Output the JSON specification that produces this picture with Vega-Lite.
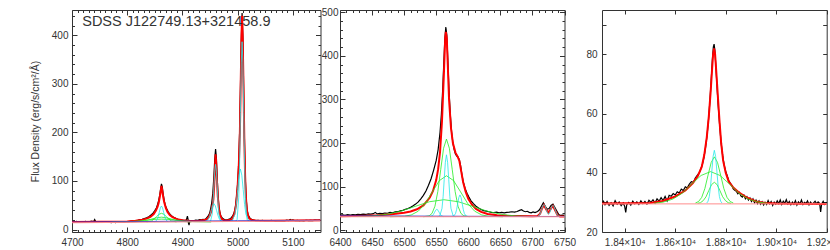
{
"$schema": "https://vega.github.io/schema/vega-lite/v6.json",
"padding": {"left": 30, "top": 7, "right": 0, "bottom": 0},
"background": "white",
"config": {
  "view": {"stroke": null},
  "axis": {"domainColor": "#333", "domainWidth": 1, "tickColor": "#333", "tickWidth": 1, "labelColor": "#333", "labelFont": "Liberation Sans", "labelFontSize": 10, "titleFont": "Liberation Sans", "titleFontSize": 10.5, "titleFontWeight": "normal", "titleColor": "#333", "grid": false, "labelFlush": false, "labelOverlap": false}
},
"datasets": {
  "o1": [
    {"x":4700,"y":16.2},{"x":4704,"y":15.5},{"x":4708,"y":16.8},{"x":4712,"y":15.9},{"x":4716,"y":16.4},{"x":4720,"y":15.2},{"x":4724,"y":16.9},{"x":4728,"y":15.8},{"x":4732,"y":16.5},{"x":4736,"y":17.2},{"x":4739,"y":16.1},{"x":4741,"y":20.5},{"x":4743,"y":16.3},{"x":4747,"y":15.4},{"x":4751,"y":16.1},{"x":4755,"y":14.9},{"x":4759,"y":15.8},{"x":4763,"y":14.6},{"x":4767,"y":15.3},{"x":4771,"y":14.2},{"x":4775,"y":15.1},{"x":4779,"y":14.4},{"x":4783,"y":15.6},{"x":4787,"y":14.8},{"x":4791,"y":15.9},{"x":4795,"y":15.3},{"x":4799,"y":16.6},{"x":4803,"y":16.2},{"x":4807,"y":17.3},{"x":4811,"y":17.8},{"x":4815,"y":18.6},{"x":4819,"y":19.2},{"x":4823,"y":20.3},{"x":4827,"y":21.2},{"x":4831,"y":22.8},{"x":4835,"y":24.1},{"x":4839,"y":26.5},{"x":4843,"y":29.8},{"x":4847,"y":34.5},{"x":4850,"y":39},{"x":4853,"y":45},{"x":4855,"y":52},{"x":4857,"y":60},{"x":4859,"y":72},{"x":4860.5,"y":84},{"x":4862,"y":94},{"x":4863.5,"y":88},{"x":4865,"y":74},{"x":4867,"y":60},{"x":4869,"y":50},{"x":4871,"y":44},{"x":4874,"y":37},{"x":4877,"y":32},{"x":4880,"y":28.5},{"x":4884,"y":25.3},{"x":4888,"y":23},{"x":4892,"y":21.2},{"x":4896,"y":20.3},{"x":4900,"y":19.4},{"x":4904,"y":18.7},{"x":4907,"y":19.5},{"x":4909,"y":27.5},{"x":4910,"y":22},{"x":4911,"y":13},{"x":4912,"y":9},{"x":4913,"y":17},{"x":4916,"y":18.4},{"x":4920,"y":18.2},{"x":4924,"y":19.6},{"x":4928,"y":18.9},{"x":4931,"y":20.5},{"x":4934,"y":19.8},{"x":4937,"y":21},{"x":4940,"y":20.6},{"x":4943,"y":23},{"x":4946,"y":27},{"x":4949,"y":33},{"x":4951,"y":42},{"x":4953,"y":55},{"x":4955,"y":75},{"x":4957,"y":110},{"x":4958.5,"y":145},{"x":4960,"y":166},{"x":4961.5,"y":148},{"x":4963,"y":105},{"x":4964.5,"y":70},{"x":4966,"y":48},{"x":4968,"y":34},{"x":4970,"y":27},{"x":4973,"y":22.5},{"x":4976,"y":20.5},{"x":4979,"y":19.6},{"x":4982,"y":20.4},{"x":4985,"y":21.5},{"x":4988,"y":24},{"x":4991,"y":28},{"x":4994,"y":36},{"x":4996,"y":48},{"x":4998,"y":68},{"x":5000,"y":95},{"x":5002,"y":140},{"x":5003.5,"y":200},{"x":5005,"y":290},{"x":5006.5,"y":390},{"x":5008,"y":446},{"x":5009.5,"y":395},{"x":5011,"y":270},{"x":5012.5,"y":170},{"x":5014,"y":100},{"x":5015.5,"y":62},{"x":5017,"y":42},{"x":5019,"y":30},{"x":5022,"y":24},{"x":5025,"y":21},{"x":5029,"y":19.6},{"x":5033,"y":18.5},{"x":5037,"y":19.2},{"x":5041,"y":18.1},{"x":5045,"y":18.8},{"x":5049,"y":17.6},{"x":5053,"y":18.4},{"x":5057,"y":17.9},{"x":5061,"y":18.8},{"x":5065,"y":18.2},{"x":5069,"y":17.5},{"x":5073,"y":18.3},{"x":5077,"y":17.8},{"x":5081,"y":18.6},{"x":5085,"y":18.1},{"x":5089,"y":19.5},{"x":5092,"y":18.4},{"x":5095,"y":20.8},{"x":5097,"y":19},{"x":5100,"y":19.8},{"x":5104,"y":18.2},{"x":5108,"y":18.9},{"x":5112,"y":17.7},{"x":5116,"y":18.6},{"x":5120,"y":18.1},{"x":5124,"y":19.2},{"x":5128,"y":18.4},{"x":5132,"y":19.1},{"x":5136,"y":18.6},{"x":5140,"y":19.4},{"x":5144,"y":18.8},{"x":5150,"y":19.3}
  ],
  "m1": [
    {"x":4700,"y":15.8},{"x":4750,"y":16},{"x":4780,"y":16.2},{"x":4800,"y":16.8},{"x":4815,"y":18},{"x":4825,"y":19.5},{"x":4835,"y":22.5},{"x":4842,"y":26},{"x":4848,"y":32},{"x":4852,"y":39},{"x":4855,"y":47},{"x":4857,"y":55},{"x":4859,"y":67},{"x":4860.5,"y":78},{"x":4862,"y":90},{"x":4863.5,"y":80},{"x":4865,"y":68},{"x":4867,"y":56},{"x":4870,"y":44},{"x":4873,"y":36},{"x":4877,"y":30},{"x":4882,"y":25.5},{"x":4890,"y":21.5},{"x":4900,"y":19},{"x":4915,"y":17.8},{"x":4930,"y":18},{"x":4940,"y":19.5},{"x":4945,"y":22},{"x":4949,"y":28},{"x":4952,"y":37},{"x":4954.5,"y":50},{"x":4956,"y":62},{"x":4957.5,"y":90},{"x":4959,"y":130},{"x":4960,"y":155},{"x":4961,"y":138},{"x":4962.5,"y":100},{"x":4964,"y":68},{"x":4966,"y":44},{"x":4968,"y":30},{"x":4971,"y":22},{"x":4975,"y":19},{"x":4980,"y":18.5},{"x":4985,"y":19.5},{"x":4990,"y":22},{"x":4994,"y":32},{"x":4997,"y":50},{"x":5000,"y":90},{"x":5002,"y":130},{"x":5004,"y":200},{"x":5005.5,"y":300},{"x":5007,"y":400},{"x":5008,"y":440},{"x":5009,"y":400},{"x":5010.5,"y":300},{"x":5012,"y":190},{"x":5013.5,"y":110},{"x":5015,"y":65},{"x":5017,"y":37},{"x":5020,"y":24},{"x":5025,"y":19.5},{"x":5035,"y":18.2},{"x":5060,"y":18.3},{"x":5100,"y":18.6},{"x":5150,"y":19}
  ],
  "g1": [
    {"c":1,"x":4835,"y":15.7},{"c":1,"x":4844,"y":17.9},{"c":1,"x":4848.5,"y":21.4},{"c":1,"x":4853,"y":26.4},{"c":1,"x":4857.5,"y":31.4},{"c":1,"x":4862,"y":33.5},{"c":1,"x":4866.5,"y":31.4},{"c":1,"x":4871,"y":26.4},{"c":1,"x":4875.5,"y":21.4},{"c":1,"x":4880,"y":17.9},{"c":1,"x":4889,"y":15.7},
    {"c":2,"x":4808,"y":15.6},{"c":2,"x":4826,"y":16.9},{"c":2,"x":4835,"y":18.8},{"c":2,"x":4844,"y":21.6},{"c":2,"x":4853,"y":24.3},{"c":2,"x":4862,"y":25.5},{"c":2,"x":4871,"y":24.3},{"c":2,"x":4880,"y":21.6},{"c":2,"x":4889,"y":18.8},{"c":2,"x":4898,"y":16.9},{"c":2,"x":4916,"y":15.6},
    {"c":3,"x":4772,"y":15.6},{"c":3,"x":4802,"y":16.3},{"c":3,"x":4817,"y":17.4},{"c":3,"x":4832,"y":19.1},{"c":3,"x":4847,"y":20.8},{"c":3,"x":4862,"y":21.5},{"c":3,"x":4877,"y":20.8},{"c":3,"x":4892,"y":19.1},{"c":3,"x":4907,"y":17.4},{"c":3,"x":4922,"y":16.3},{"c":3,"x":4952,"y":15.6}
  ],
  "c1": [
    {"c":1,"x":4850,"y":15.9},{"c":1,"x":4854,"y":20},{"c":1,"x":4856,"y":26.2},{"c":1,"x":4858,"y":35.5},{"c":1,"x":4860,"y":44.6},{"c":1,"x":4862,"y":48.5},{"c":1,"x":4864,"y":44.6},{"c":1,"x":4866,"y":35.5},{"c":1,"x":4868,"y":26.2},{"c":1,"x":4870,"y":20},{"c":1,"x":4874,"y":15.9},
    {"c":2,"x":4948,"y":16.3},{"c":2,"x":4951,"y":17.6},{"c":2,"x":4954,"y":32.2},{"c":2,"x":4955.5,"y":54.7},{"c":2,"x":4957,"y":87.9},{"c":2,"x":4958.5,"y":120.4},{"c":2,"x":4960,"y":134.3},{"c":2,"x":4961.5,"y":120.4},{"c":2,"x":4963,"y":87.9},{"c":2,"x":4964.5,"y":54.7},{"c":2,"x":4966,"y":32.2},{"c":2,"x":4969,"y":17.6},{"c":2,"x":4972,"y":16.3},
    {"c":3,"x":4942,"y":16.7},{"c":3,"x":4947,"y":21.3},{"c":3,"x":4949.5,"y":28.3},{"c":3,"x":4952,"y":38.8},{"c":3,"x":4954.5,"y":48.9},{"c":3,"x":4957,"y":53.3},{"c":3,"x":4959.5,"y":48.9},{"c":3,"x":4962,"y":38.8},{"c":3,"x":4964.5,"y":28.3},{"c":3,"x":4967,"y":21.3},{"c":3,"x":4972,"y":16.7},
    {"c":4,"x":4996,"y":16.8},{"c":4,"x":4999,"y":20.8},{"c":4,"x":5002,"y":66.7},{"c":4,"x":5003.5,"y":136.9},{"c":4,"x":5005,"y":241.3},{"c":4,"x":5006.5,"y":343},{"c":4,"x":5008,"y":386.7},{"c":4,"x":5009.5,"y":343},{"c":4,"x":5011,"y":241.3},{"c":4,"x":5012.5,"y":136.9},{"c":4,"x":5014,"y":66.7},{"c":4,"x":5017,"y":20.8},{"c":4,"x":5020,"y":16.8},
    {"c":5,"x":4985,"y":16.7},{"c":5,"x":4990,"y":17.9},{"c":5,"x":4995,"y":31.3},{"c":5,"x":4997.5,"y":51.8},{"c":5,"x":5000,"y":82.3},{"c":5,"x":5002.5,"y":112},{"c":5,"x":5005,"y":124.7},{"c":5,"x":5007.5,"y":112},{"c":5,"x":5010,"y":82.3},{"c":5,"x":5012.5,"y":51.8},{"c":5,"x":5015,"y":31.3},{"c":5,"x":5020,"y":17.9},{"c":5,"x":5025,"y":16.7}
  ],
  "b1": [{"x":4700,"y":15.5},{"x":4800,"y":16.2},{"x":4900,"y":17.3},{"x":5000,"y":18},{"x":5100,"y":18.7},{"x":5150,"y":19}],
  "k1": [{"x":4700,"y":14},{"x":5150,"y":18}],
  "t1": [{"x":4718.5,"y":419,"t":"SDSS J122749.13+321458.9"}],
  "o2": [
    {"x":6400,"y":34.5},{"x":6404,"y":35.5},{"x":6408,"y":34.2},{"x":6412,"y":35.8},{"x":6416,"y":35},{"x":6420,"y":36.1},{"x":6424,"y":35.2},{"x":6428,"y":36.5},{"x":6432,"y":35.7},{"x":6436,"y":37},{"x":6440,"y":36.2},{"x":6444,"y":37.5},{"x":6448,"y":36.8},{"x":6452,"y":38},{"x":6455,"y":41},{"x":6458,"y":37.5},{"x":6462,"y":38.6},{"x":6466,"y":38},{"x":6470,"y":39.5},{"x":6474,"y":39},{"x":6478,"y":40.8},{"x":6482,"y":40.2},{"x":6486,"y":42},{"x":6490,"y":42.5},{"x":6494,"y":44.5},{"x":6498,"y":45.5},{"x":6502,"y":48},{"x":6506,"y":50},{"x":6510,"y":52.5},{"x":6514,"y":56},{"x":6518,"y":60},{"x":6522,"y":65},{"x":6526,"y":72},{"x":6530,"y":80},{"x":6534,"y":90},{"x":6538,"y":103},{"x":6542,"y":118},{"x":6546,"y":138},{"x":6550,"y":160},{"x":6553,"y":185},{"x":6556,"y":225},{"x":6558,"y":265},{"x":6560,"y":320},{"x":6562,"y":390},{"x":6563.5,"y":440},{"x":6565,"y":466},{"x":6566.5,"y":448},{"x":6568,"y":395},{"x":6570,"y":320},{"x":6572,"y":265},{"x":6574,"y":225},{"x":6576,"y":200},{"x":6578,"y":185},{"x":6580,"y":175},{"x":6582,"y":170},{"x":6584,"y":168},{"x":6586,"y":162},{"x":6588,"y":148},{"x":6590,"y":128},{"x":6592,"y":112},{"x":6595,"y":96},{"x":6598,"y":85},{"x":6601,"y":76},{"x":6604,"y":68},{"x":6608,"y":61},{"x":6612,"y":55},{"x":6616,"y":51},{"x":6620,"y":47.5},{"x":6624,"y":45},{"x":6628,"y":44},{"x":6632,"y":42.5},{"x":6636,"y":41},{"x":6640,"y":40.5},{"x":6644,"y":41.5},{"x":6648,"y":40.2},{"x":6652,"y":41},{"x":6656,"y":40},{"x":6660,"y":40.8},{"x":6664,"y":41.5},{"x":6668,"y":42.4},{"x":6672,"y":41.8},{"x":6676,"y":43},{"x":6680,"y":45.5},{"x":6683,"y":47},{"x":6686,"y":44},{"x":6689,"y":42.5},{"x":6692,"y":43.5},{"x":6695,"y":41},{"x":6698,"y":40},{"x":6701,"y":42},{"x":6704,"y":40.5},{"x":6708,"y":43},{"x":6711,"y":47},{"x":6714,"y":55},{"x":6717,"y":63},{"x":6720,"y":55},{"x":6723,"y":48},{"x":6726,"y":50},{"x":6729,"y":57},{"x":6732,"y":60},{"x":6735,"y":52},{"x":6738,"y":44},{"x":6741,"y":36},{"x":6744,"y":34},{"x":6747,"y":34.5},{"x":6750,"y":34}
  ],
  "m2": [
    {"x":6400,"y":32},{"x":6420,"y":32.5},{"x":6440,"y":33.3},{"x":6460,"y":34.5},{"x":6480,"y":36.5},{"x":6500,"y":40},{"x":6510,"y":43},{"x":6520,"y":48},{"x":6530,"y":57},{"x":6540,"y":75},{"x":6545,"y":90},{"x":6550,"y":115},{"x":6553,"y":140},{"x":6556,"y":180},{"x":6559,"y":250},{"x":6562,"y":360},{"x":6564,"y":440},{"x":6565,"y":455},{"x":6566.5,"y":440},{"x":6568,"y":380},{"x":6570,"y":300},{"x":6573,"y":235},{"x":6576,"y":200},{"x":6580,"y":178},{"x":6583,"y":170},{"x":6586,"y":160},{"x":6589,"y":135},{"x":6592,"y":110},{"x":6596,"y":88},{"x":6600,"y":72},{"x":6606,"y":58},{"x":6612,"y":49},{"x":6620,"y":42},{"x":6630,"y":37.5},{"x":6645,"y":34.5},{"x":6660,"y":33},{"x":6680,"y":32.5},{"x":6700,"y":32.3},{"x":6708,"y":32.5},{"x":6712,"y":38},{"x":6715,"y":50},{"x":6718,"y":58},{"x":6721,"y":49},{"x":6725,"y":40},{"x":6729,"y":50},{"x":6732,"y":56},{"x":6735,"y":47},{"x":6739,"y":35},{"x":6743,"y":31.5},{"x":6750,"y":31.3}
  ],
  "g2": [
    {"c":1,"x":6530,"y":31},{"c":1,"x":6539,"y":33},{"c":1,"x":6543.5,"y":38.8},{"c":1,"x":6548,"y":55},{"c":1,"x":6552.5,"y":88.8},{"c":1,"x":6557,"y":139},{"c":1,"x":6561.5,"y":188},{"c":1,"x":6566,"y":209},{"c":1,"x":6570.5,"y":188},{"c":1,"x":6575,"y":139},{"c":1,"x":6579.5,"y":88.8},{"c":1,"x":6584,"y":55},{"c":1,"x":6588.5,"y":38.8},{"c":1,"x":6593,"y":33},{"c":1,"x":6602,"y":31},
    {"c":2,"x":6478,"y":31},{"c":2,"x":6500,"y":32},{"c":2,"x":6511,"y":35.1},{"c":2,"x":6522,"y":43.7},{"c":2,"x":6533,"y":61.5},{"c":2,"x":6544,"y":88},{"c":2,"x":6555,"y":113.9},{"c":2,"x":6566,"y":125},{"c":2,"x":6577,"y":113.9},{"c":2,"x":6588,"y":88},{"c":2,"x":6599,"y":61.5},{"c":2,"x":6610,"y":43.7},{"c":2,"x":6621,"y":35.1},{"c":2,"x":6632,"y":32},{"c":2,"x":6654,"y":31},
    {"c":3,"x":6427,"y":31.4},{"c":3,"x":6449.5,"y":32.7},{"c":3,"x":6472,"y":36.3},{"c":3,"x":6494.5,"y":43.7},{"c":3,"x":6517,"y":54.7},{"c":3,"x":6539.5,"y":65.4},{"c":3,"x":6562,"y":70},{"c":3,"x":6584.5,"y":65.4},{"c":3,"x":6607,"y":54.7},{"c":3,"x":6629.5,"y":43.7},{"c":3,"x":6652,"y":36.3},{"c":3,"x":6674.5,"y":32.7},{"c":3,"x":6697,"y":31.4}
  ],
  "c2": [
    {"c":1,"x":6552,"y":31},{"c":1,"x":6555.5,"y":32.6},{"c":1,"x":6559,"y":50.2},{"c":1,"x":6560.75,"y":77},{"c":1,"x":6562.5,"y":117},{"c":1,"x":6564.25,"y":156},{"c":1,"x":6566,"y":173},{"c":1,"x":6567.75,"y":156},{"c":1,"x":6569.5,"y":117},{"c":1,"x":6571.25,"y":77},{"c":1,"x":6573,"y":50.2},{"c":1,"x":6576.5,"y":32.6},{"c":1,"x":6580,"y":31},
    {"c":2,"x":6576.5,"y":31.6},{"c":2,"x":6580,"y":37.8},{"c":2,"x":6581.75,"y":47.2},{"c":2,"x":6583.5,"y":61.3},{"c":2,"x":6585.25,"y":75},{"c":2,"x":6587,"y":81},{"c":2,"x":6588.75,"y":75},{"c":2,"x":6590.5,"y":61.3},{"c":2,"x":6592.25,"y":47.2},{"c":2,"x":6594,"y":37.8},{"c":2,"x":6597.5,"y":31.6},
    {"c":3,"x":6540.5,"y":31.2},{"c":3,"x":6544,"y":33.3},{"c":3,"x":6545.75,"y":36.5},{"c":3,"x":6547.5,"y":41.3},{"c":3,"x":6549.25,"y":46},{"c":3,"x":6551,"y":48},{"c":3,"x":6552.75,"y":46},{"c":3,"x":6554.5,"y":41.3},{"c":3,"x":6556.25,"y":36.5},{"c":3,"x":6558,"y":33.3},{"c":3,"x":6561.5,"y":31.2},
    {"c":4,"x":6707.5,"y":31.3},{"c":4,"x":6711,"y":34.8},{"c":4,"x":6712.75,"y":40.1},{"c":4,"x":6714.5,"y":48},{"c":4,"x":6716.25,"y":55.7},{"c":4,"x":6718,"y":59},{"c":4,"x":6719.75,"y":55.7},{"c":4,"x":6721.5,"y":48},{"c":4,"x":6723.25,"y":40.5},{"c":4,"x":6725,"y":37},{"c":4,"x":6726.75,"y":40},{"c":4,"x":6728.5,"y":46.9},{"c":4,"x":6730.25,"y":54},{"c":4,"x":6732,"y":57},{"c":4,"x":6733.75,"y":53.9},{"c":4,"x":6735.5,"y":46.8},{"c":4,"x":6737.25,"y":39.5},{"c":4,"x":6739,"y":34.5},{"c":4,"x":6742.5,"y":31.3}
  ],
  "b2": [{"x":6400,"y":33},{"x":6500,"y":32.5},{"x":6600,"y":32},{"x":6750,"y":31.5}],
  "k2": [{"x":6400,"y":31},{"x":6750,"y":31}],
  "o3": [
    {"x":18310,"y":29.6},{"x":18316,"y":30.4},{"x":18322,"y":29.2},{"x":18330,"y":30.3},{"x":18338,"y":29.0},{"x":18346,"y":29.9},{"x":18354,"y":28.8},{"x":18362,"y":30.6},{"x":18370,"y":29.4},{"x":18378,"y":30.1},{"x":18386,"y":28.9},{"x":18394,"y":29.8},{"x":18400,"y":28.6},{"x":18404,"y":26.6},{"x":18408,"y":29.2},{"x":18416,"y":30.0},{"x":18424,"y":29.1},{"x":18432,"y":30.4},{"x":18440,"y":29.5},{"x":18448,"y":30.2},{"x":18456,"y":29.3},{"x":18464,"y":30.5},{"x":18472,"y":29.6},{"x":18480,"y":30.3},{"x":18488,"y":29.4},{"x":18496,"y":30.7},{"x":18504,"y":30.0},{"x":18512,"y":30.9},{"x":18520,"y":29.8},{"x":18528,"y":31.2},{"x":18536,"y":30.4},{"x":18544,"y":31.6},{"x":18552,"y":30.6},{"x":18560,"y":32.0},{"x":18568,"y":30.5},{"x":18576,"y":32.4},{"x":18584,"y":32.1},{"x":18592,"y":33.0},{"x":18600,"y":32.5},{"x":18608,"y":33.6},{"x":18616,"y":33.2},{"x":18624,"y":34.5},{"x":18632,"y":34.0},{"x":18640,"y":35.3},{"x":18648,"y":34.9},{"x":18656,"y":36.2},{"x":18664,"y":37.0},{"x":18672,"y":36.8},{"x":18680,"y":38.3},{"x":18688,"y":39.2},{"x":18696,"y":40.1},{"x":18702,"y":41.5},{"x":18708,"y":43.0},{"x":18714,"y":45.2},{"x":18720,"y":48.5},{"x":18726,"y":52.5},{"x":18732,"y":58},{"x":18738,"y":65},{"x":18743,"y":72},{"x":18747,"y":78},{"x":18751,"y":82.5},{"x":18754,"y":83.5},{"x":18757,"y":81.5},{"x":18761,"y":76},{"x":18765,"y":70},{"x":18770,"y":63},{"x":18776,"y":56},{"x":18782,"y":50},{"x":18788,"y":45.8},{"x":18794,"y":42.6},{"x":18800,"y":40.5},{"x":18806,"y":39.0},{"x":18812,"y":37.4},{"x":18818,"y":36.5},{"x":18824,"y":35.8},{"x":18830,"y":34.6},{"x":18836,"y":34.1},{"x":18842,"y":33.8},{"x":18848,"y":32.9},{"x":18854,"y":33.4},{"x":18860,"y":32.2},{"x":18866,"y":31.8},{"x":18872,"y":32.5},{"x":18878,"y":31.2},{"x":18884,"y":31.9},{"x":18890,"y":30.8},{"x":18896,"y":31.5},{"x":18902,"y":30.3},{"x":18908,"y":31.2},{"x":18914,"y":29.9},{"x":18920,"y":30.8},{"x":18926,"y":29.6},{"x":18932,"y":30.5},{"x":18938,"y":29.4},{"x":18944,"y":30.2},{"x":18950,"y":29.1},{"x":18956,"y":30.0},{"x":18962,"y":29.3},{"x":18968,"y":30.6},{"x":18974,"y":29.5},{"x":18980,"y":30.3},{"x":18986,"y":29.0},{"x":18992,"y":30.1},{"x":18998,"y":29.4},{"x":19004,"y":30.5},{"x":19010,"y":29.6},{"x":19016,"y":30.8},{"x":19022,"y":29.3},{"x":19028,"y":30.4},{"x":19034,"y":29.7},{"x":19040,"y":30.9},{"x":19046,"y":29.5},{"x":19052,"y":30.3},{"x":19058,"y":29.2},{"x":19064,"y":30.1},{"x":19070,"y":29.4},{"x":19076,"y":30.6},{"x":19082,"y":29.1},{"x":19088,"y":30.2},{"x":19094,"y":29.5},{"x":19100,"y":30.8},{"x":19106,"y":29.3},{"x":19112,"y":30.0},{"x":19118,"y":29.6},{"x":19124,"y":30.5},{"x":19130,"y":29.2},{"x":19136,"y":30.1},{"x":19142,"y":29.4},{"x":19148,"y":29.8},{"x":19154,"y":30.4},{"x":19160,"y":29.5},{"x":19166,"y":30.2},{"x":19172,"y":29.7},{"x":19176,"y":26.8},{"x":19180,"y":29.5},{"x":19186,"y":30.4},{"x":19192,"y":29.3},{"x":19200,"y":30.1}
  ],
  "m3": [
    {"x":18310,"y":29.6},{"x":18500,"y":29.8},{"x":18550,"y":30.5},{"x":18600,"y":32},{"x":18640,"y":34},{"x":18670,"y":36.5},{"x":18690,"y":39},{"x":18705,"y":42},{"x":18715,"y":46},{"x":18725,"y":52},{"x":18733,"y":59},{"x":18740,"y":67},{"x":18746,"y":75},{"x":18750,"y":80},{"x":18754,"y":82},{"x":18758,"y":80},{"x":18762,"y":75},{"x":18768,"y":67},{"x":18775,"y":58},{"x":18782,"y":50},{"x":18790,"y":44},{"x":18800,"y":40},{"x":18812,"y":37},{"x":18830,"y":35},{"x":18850,"y":33.5},{"x":18880,"y":31.8},{"x":18920,"y":30.3},{"x":18960,"y":29.8},{"x":19000,"y":29.6},{"x":19200,"y":29.5}
  ],
  "g3": [
    {"c":1,"x":18515,"y":29.7},{"c":1,"x":18552.5,"y":30.1},{"c":1,"x":18590,"y":31.1},{"c":1,"x":18627.5,"y":33.1},{"c":1,"x":18665,"y":36.2},{"c":1,"x":18702.5,"y":39.1},{"c":1,"x":18740,"y":40.4},{"c":1,"x":18777.5,"y":39.1},{"c":1,"x":18815,"y":36.2},{"c":1,"x":18852.5,"y":33.1},{"c":1,"x":18890,"y":31.1},{"c":1,"x":18927.5,"y":30.1},{"c":1,"x":18965,"y":29.7},
    {"c":2,"x":18680,"y":29.8},{"c":2,"x":18692.5,"y":30.3},{"c":2,"x":18705,"y":31.7},{"c":2,"x":18717.5,"y":34.7},{"c":2,"x":18730,"y":39.2},{"c":2,"x":18742.5,"y":43.5},{"c":2,"x":18755,"y":45.4},{"c":2,"x":18767.5,"y":43.5},{"c":2,"x":18780,"y":39.2},{"c":2,"x":18792.5,"y":34.7},{"c":2,"x":18805,"y":31.7},{"c":2,"x":18817.5,"y":30.3},{"c":2,"x":18830,"y":29.8},
    {"c":3,"x":18689,"y":29.7},{"c":3,"x":18700,"y":29.9},{"c":3,"x":18711,"y":30.6},{"c":3,"x":18722,"y":31.9},{"c":3,"x":18733,"y":34},{"c":3,"x":18744,"y":36},{"c":3,"x":18755,"y":36.8},{"c":3,"x":18766,"y":36},{"c":3,"x":18777,"y":34},{"c":3,"x":18788,"y":31.9},{"c":3,"x":18799,"y":30.6},{"c":3,"x":18810,"y":29.9},{"c":3,"x":18821,"y":29.7}
  ],
  "c3": [
    {"c":1,"x":18725,"y":29.8},{"c":1,"x":18730,"y":30.4},{"c":1,"x":18735,"y":32},{"c":1,"x":18740,"y":35.5},{"c":1,"x":18745,"y":40.5},{"c":1,"x":18750,"y":45.5},{"c":1,"x":18755,"y":47.6},{"c":1,"x":18760,"y":45.5},{"c":1,"x":18765,"y":40.5},{"c":1,"x":18770,"y":35.5},{"c":1,"x":18775,"y":32},{"c":1,"x":18780,"y":30.4},{"c":1,"x":18785,"y":29.8}
  ],
  "k3": [{"x":18310,"y":29.5},{"x":19200,"y":29.5}]
},
"hconcat": [
  {
    "hconcat": [
      {
        "width": 248.5, "height": 222,
        "resolve": {"axis": {"x": "independent", "y": "independent"}},
        "layer": [
          {"data": {"name": "o1"}, "mark": {"type": "line", "color": "#000000", "strokeWidth": 1.2, "clip": true},
           "encoding": {
             "x": {"field": "x", "type": "quantitative", "scale": {"domain": [4700, 5150], "nice": false, "zero": false},
                   "axis": {"orient": "bottom", "values": [4700, 4800, 4900, 5000, 5100], "format": "d", "tickSize": -5, "labelPadding": 10, "title": "Rest-frame wavelength (Å)", "titlePadding": 4}},
             "y": {"field": "y", "type": "quantitative", "scale": {"domain": [-5, 452], "nice": false, "zero": false},
                   "axis": {"orient": "left", "values": [0, 100, 200, 300, 400], "tickSize": -5, "labelPadding": 9, "title": "Flux Density (erg/s/cm²/Å)", "titlePadding": 11}}}},
          {"data": {"name": "m1"}, "mark": {"type": "line", "color": "#ff0000", "strokeWidth": 2, "clip": true},
           "encoding": {
             "x": {"field": "x", "type": "quantitative", "scale": {"domain": [4700, 5150], "nice": false, "zero": false},
                   "axis": {"orient": "top", "values": [4700, 4800, 4900, 5000, 5100], "tickSize": -5, "labels": false, "title": null}},
             "y": {"field": "y", "type": "quantitative", "scale": {"domain": [-5, 452], "nice": false, "zero": false},
                   "axis": {"orient": "right", "values": [0, 100, 200, 300, 400], "tickSize": -5, "labels": false, "title": null}}}},
          {"data": {"name": "g1"}, "mark": {"type": "line", "color": "#22ee22", "strokeWidth": 0.8, "clip": true},
           "encoding": {
             "detail": {"field": "c"},
             "x": {"field": "x", "type": "quantitative",
                   "axis": {"orient": "bottom", "values": [4710,4720,4730,4740,4750,4760,4770,4780,4790,4810,4820,4830,4840,4850,4860,4870,4880,4890,4910,4920,4930,4940,4950,4960,4970,4980,4990,5010,5020,5030,5040,5050,5060,5070,5080,5090,5110,5120,5130,5140], "tickSize": -2.5, "labels": false, "domain": false, "title": null}},
             "y": {"field": "y", "type": "quantitative",
                   "axis": {"orient": "left", "values": [20,40,60,80,120,140,160,180,220,240,260,280,320,340,360,380,420,440], "tickSize": -2.5, "labels": false, "domain": false, "title": null}}}},
          {"data": {"name": "c1"}, "mark": {"type": "line", "color": "#22e8e8", "strokeWidth": 0.8, "clip": true},
           "encoding": {
             "detail": {"field": "c"},
             "x": {"field": "x", "type": "quantitative",
                   "axis": {"orient": "top", "values": [4710,4720,4730,4740,4750,4760,4770,4780,4790,4810,4820,4830,4840,4850,4860,4870,4880,4890,4910,4920,4930,4940,4950,4960,4970,4980,4990,5010,5020,5030,5040,5050,5060,5070,5080,5090,5110,5120,5130,5140], "tickSize": -2.5, "labels": false, "domain": false, "title": null}},
             "y": {"field": "y", "type": "quantitative",
                   "axis": {"orient": "right", "values": [20,40,60,80,120,140,160,180,220,240,260,280,320,340,360,380,420,440], "tickSize": -2.5, "labels": false, "domain": false, "title": null}}}},
          {"data": {"name": "b1"}, "mark": {"type": "line", "color": "#3333cc", "strokeWidth": 1, "clip": true},
           "encoding": {"x": {"field": "x", "type": "quantitative", "axis": null}, "y": {"field": "y", "type": "quantitative", "axis": null}}},
          {"data": {"name": "k1"}, "mark": {"type": "line", "color": "#ff8c8c", "strokeWidth": 1, "clip": true},
           "encoding": {"x": {"field": "x", "type": "quantitative", "axis": null}, "y": {"field": "y", "type": "quantitative", "axis": null}}},
          {"data": {"name": "t1"}, "mark": {"type": "text", "align": "left", "baseline": "alphabetic", "font": "Liberation Sans", "fontSize": 14.5, "color": "#333"},
           "encoding": {"x": {"field": "x", "type": "quantitative", "axis": null}, "y": {"field": "y", "type": "quantitative", "axis": null}, "text": {"field": "t"}}}
        ]
      },
      {
        "width": 224.5, "height": 222,
        "resolve": {"axis": {"x": "independent", "y": "independent"}},
        "layer": [
          {"data": {"name": "o2"}, "mark": {"type": "line", "color": "#000000", "strokeWidth": 1.2, "clip": true},
           "encoding": {
             "x": {"field": "x", "type": "quantitative", "scale": {"domain": [6400, 6750], "nice": false, "zero": false},
                   "axis": {"orient": "bottom", "values": [6400, 6450, 6500, 6550, 6600, 6650, 6700, 6750], "format": "d", "tickSize": -5, "labelPadding": 10, "title": "Rest-frame wavelength (Å)", "titlePadding": 4}},
             "y": {"field": "y", "type": "quantitative", "scale": {"domain": [-4, 505], "nice": false, "zero": false},
                   "axis": {"orient": "left", "values": [0, 100, 200, 300, 400, 500], "tickSize": -5, "labelPadding": 7, "title": null}}}},
          {"data": {"name": "m2"}, "mark": {"type": "line", "color": "#ff0000", "strokeWidth": 2, "clip": true},
           "encoding": {
             "x": {"field": "x", "type": "quantitative", "scale": {"domain": [6400, 6750], "nice": false, "zero": false},
                   "axis": {"orient": "top", "values": [6400, 6450, 6500, 6550, 6600, 6650, 6700, 6750], "tickSize": -5, "labels": false, "title": null}},
             "y": {"field": "y", "type": "quantitative", "scale": {"domain": [-4, 505], "nice": false, "zero": false},
                   "axis": {"orient": "right", "values": [0, 100, 200, 300, 400, 500], "tickSize": -5, "labels": false, "title": null}}}},
          {"data": {"name": "g2"}, "mark": {"type": "line", "color": "#22ee22", "strokeWidth": 0.8, "clip": true},
           "encoding": {
             "detail": {"field": "c"},
             "x": {"field": "x", "type": "quantitative",
                   "axis": {"orient": "bottom", "values": [6410,6420,6430,6440,6460,6470,6480,6490,6510,6520,6530,6540,6560,6570,6580,6590,6610,6620,6630,6640,6660,6670,6680,6690,6710,6720,6730,6740], "tickSize": -2.5, "labels": false, "domain": false, "title": null}},
             "y": {"field": "y", "type": "quantitative",
                   "axis": {"orient": "left", "values": [20,40,60,80,120,140,160,180,220,240,260,280,320,340,360,380,420,440,460,480], "tickSize": -2.5, "labels": false, "domain": false, "title": null}}}},
          {"data": {"name": "c2"}, "mark": {"type": "line", "color": "#22e8e8", "strokeWidth": 0.8, "clip": true},
           "encoding": {
             "detail": {"field": "c"},
             "x": {"field": "x", "type": "quantitative",
                   "axis": {"orient": "top", "values": [6410,6420,6430,6440,6460,6470,6480,6490,6510,6520,6530,6540,6560,6570,6580,6590,6610,6620,6630,6640,6660,6670,6680,6690,6710,6720,6730,6740], "tickSize": -2.5, "labels": false, "domain": false, "title": null}},
             "y": {"field": "y", "type": "quantitative",
                   "axis": {"orient": "right", "values": [20,40,60,80,120,140,160,180,220,240,260,280,320,340,360,380,420,440,460,480], "tickSize": -2.5, "labels": false, "domain": false, "title": null}}}},
          {"data": {"name": "b2"}, "mark": {"type": "line", "color": "#3333cc", "strokeWidth": 1, "clip": true},
           "encoding": {"x": {"field": "x", "type": "quantitative", "axis": null}, "y": {"field": "y", "type": "quantitative", "axis": null}}},
          {"data": {"name": "k2"}, "mark": {"type": "line", "color": "#ff8c8c", "strokeWidth": 1, "clip": true},
           "encoding": {"x": {"field": "x", "type": "quantitative", "axis": null}, "y": {"field": "y", "type": "quantitative", "axis": null}}}
        ]
      }
    ],
    "spacing": 0
  },
  {
    "width": 224.7, "height": 222,
    "resolve": {"axis": {"x": "independent", "y": "independent"}},
    "layer": [
      {"data": {"name": "o3"}, "mark": {"type": "line", "color": "#000000", "strokeWidth": 1.2, "clip": true},
       "encoding": {
         "x": {"field": "x", "type": "quantitative", "scale": {"domain": [18310, 19200], "nice": false, "zero": false},
               "axis": {"orient": "bottom", "values": [18400, 18600, 18800, 19000, 19200], "tickSize": -4, "labelPadding": 9, "labelExpr": "format(datum.value/10000, '.2f') + '×10⁴'", "title": null}},
         "y": {"field": "y", "type": "quantitative", "scale": {"domain": [20, 95], "nice": false, "zero": false},
               "axis": {"orient": "left", "values": [20, 40, 60, 80], "tickSize": -4, "labelPadding": 9, "title": null}}}},
      {"data": {"name": "m3"}, "mark": {"type": "line", "color": "#ff0000", "strokeWidth": 2, "clip": true},
       "encoding": {
         "x": {"field": "x", "type": "quantitative", "scale": {"domain": [18310, 19200], "nice": false, "zero": false},
               "axis": {"orient": "top", "values": [18400, 18600, 18800, 19000, 19200], "tickSize": -4, "labels": false, "title": null}},
         "y": {"field": "y", "type": "quantitative", "scale": {"domain": [20, 95], "nice": false, "zero": false},
               "axis": {"orient": "right", "values": [20, 30, 40, 50, 60, 70, 80, 90], "tickSize": -4, "labels": false, "title": null}}}},
      {"data": {"name": "g3"}, "mark": {"type": "line", "color": "#22ee22", "strokeWidth": 0.8, "clip": true},
       "encoding": {
         "detail": {"field": "c"},
         "x": {"field": "x", "type": "quantitative", "axis": null},
         "y": {"field": "y", "type": "quantitative",
               "axis": {"orient": "left", "values": [30, 50, 70, 90], "tickSize": -4, "labels": false, "domain": false, "title": null}}}},
      {"data": {"name": "c3"}, "mark": {"type": "line", "color": "#22e8e8", "strokeWidth": 0.8, "clip": true},
       "encoding": {
         "detail": {"field": "c"},
         "x": {"field": "x", "type": "quantitative", "axis": null},
         "y": {"field": "y", "type": "quantitative", "axis": null}}},
      {"data": {"name": "k3"}, "mark": {"type": "line", "color": "#ff8c8c", "strokeWidth": 1, "clip": true},
       "encoding": {"x": {"field": "x", "type": "quantitative", "axis": null}, "y": {"field": "y", "type": "quantitative", "axis": null}}}
    ]
  }
],
"spacing": 9
}
